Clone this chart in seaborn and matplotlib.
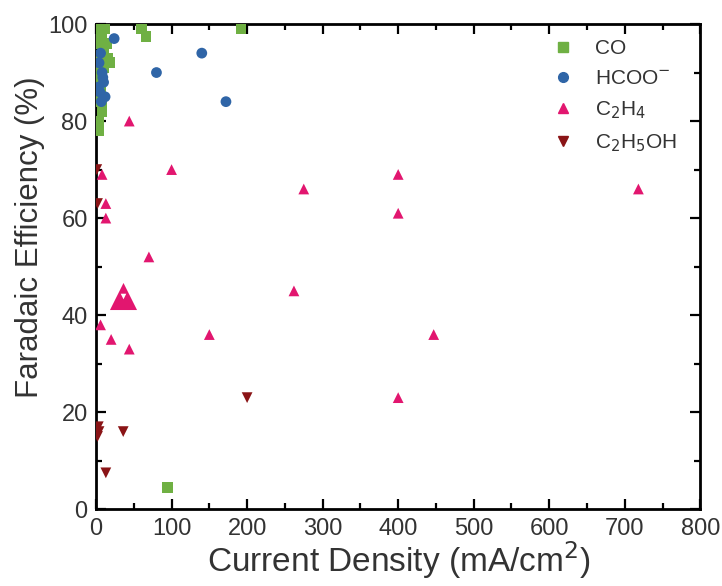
import matplotlib
matplotlib.use("Agg")
import matplotlib.pyplot as plt
from matplotlib.lines import Line2D
from matplotlib.ticker import MultipleLocator
import numpy as np
import pandas as pd
import seaborn as sns

# Current density (mA/cm2) and Faradaic efficiency (%) per product
co_j = [2, 3, 5, 5, 6, 8, 8, 10, 10, 12, 14, 15, 18, 5, 4, 7, 3, 6, 60, 66, 192, 95]
co_fe = [99, 96, 98, 93, 90, 97, 82, 95, 91, 99, 96, 93, 92, 88, 80, 84, 78, 86, 99, 97.5, 99, 4.5]

hcoo_j = [4, 6, 8, 10, 5, 12, 3, 7, 9, 24, 80, 140, 172]
hcoo_fe = [92, 94, 90, 88, 86, 85, 87, 84, 89, 97, 90, 94, 84]

c2h4_j = [44, 100, 8, 13, 13, 70, 6, 20, 44, 150, 262, 275, 400, 400, 400, 447, 718]
c2h4_fe = [80, 70, 69, 63, 60, 52, 38, 35, 33, 36, 45, 66, 69, 61, 23, 36, 66]

# Highlighted C2H4 result
c2h4_hi_j = [36]
c2h4_hi_fe = [44]

c2h5oh_j = [1, 2, 200, 36, 4, 2, 3, 13]
c2h5oh_fe = [70, 63, 23, 16, 16, 15, 17, 7.5]

products = ["CO", "HCOO$^{-}$", "C$_2$H$_4$", "C$_2$H$_5$OH"]
colors = ["#6fb043", "#2f65a7", "#e2166f", "#8a1416"]
markers = ["s", "o", "^", "v"]

df = pd.concat([
    pd.DataFrame({"j": co_j, "fe": co_fe, "product": products[0]}),
    pd.DataFrame({"j": hcoo_j, "fe": hcoo_fe, "product": products[1]}),
    pd.DataFrame({"j": c2h4_j, "fe": c2h4_fe, "product": products[2]}),
    pd.DataFrame({"j": c2h5oh_j, "fe": c2h5oh_fe, "product": products[3]}),
], ignore_index=True)
hi = pd.DataFrame({"j": c2h4_hi_j, "fe": c2h4_hi_fe})

sns.set_theme(style="ticks")
plt.rcParams["font.family"] = ["Liberation Sans", "DejaVu Sans"]
plt.rcParams["text.color"] = "#333333"

fig = plt.figure(figsize=(7.22, 5.86), dpi=100)
ax = fig.add_axes([0.133, 0.131, 0.837, 0.828])

palette = dict(zip(products, colors))
marker_map = dict(zip(products, markers))
sns.scatterplot(data=df, x="j", y="fe", hue="product", style="product",
                palette=palette, markers=marker_map, hue_order=products,
                style_order=products, s=60, linewidth=0, ax=ax, legend=False,
                zorder=3)
sns.scatterplot(data=hi, x="j", y="fe", color=colors[2], marker="^", s=380,
                linewidth=0, ax=ax, legend=False, zorder=4)
sns.scatterplot(data=hi, x="j", y="fe", color="white", marker="v", s=16,
                linewidth=0, ax=ax, legend=False, zorder=5)

ax.set_xlim(0, 800)
ax.set_ylim(0, 100)
ax.xaxis.set_major_locator(MultipleLocator(100))
ax.xaxis.set_minor_locator(MultipleLocator(50))
ax.yaxis.set_major_locator(MultipleLocator(20))
ax.yaxis.set_minor_locator(MultipleLocator(10))
ax.tick_params(which="both", direction="in", top=True, right=True,
               color="black", width=1.6)
ax.tick_params(which="major", length=7, labelsize=17, labelcolor="#333333", pad=6)
ax.tick_params(which="minor", length=4)
for sp in ax.spines.values():
    sp.set_linewidth(2.0)
    sp.set_color("black")
ax.set_xlabel("Current Density (mA/cm$^2$)", fontsize=24, color="#333333", labelpad=0)
ax.set_ylabel("Faradaic Efficiency (%)", fontsize=22.5, color="#333333")
ax.yaxis.set_label_coords(-0.085, 0.56)

handles = [Line2D([], [], linestyle="none", marker=m, color=c, markersize=7)
           for m, c in zip(markers, colors)]
ax.legend(handles, products, loc="upper left", frameon=False, fontsize=15,
          handlelength=1.0, handletextpad=1.0, labelspacing=0.54,
          borderpad=0, borderaxespad=0,
          bbox_to_anchor=((553 - 97) / 603, (509 - 39) / 485))

fig.savefig("out.png", dpi=100)
